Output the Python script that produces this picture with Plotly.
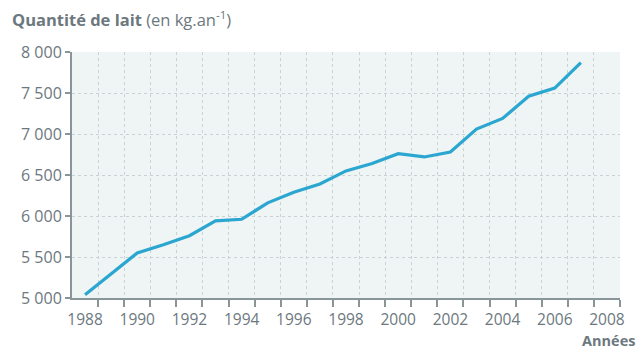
import plotly.graph_objects as go

years = list(range(1988, 2008))
milk = [5040, 5295, 5550, 5650, 5760, 5940, 5960, 6160, 6290, 6390,
        6550, 6640, 6760, 6720, 6780, 7060, 7190, 7460, 7560, 7870]

x_label_years = list(range(1988, 2009, 2))
y_ticks = [5000, 5500, 6000, 6500, 7000, 7500, 8000]
y_tick_text = ["5 000", "5 500", "6 000", "6 500", "7 000", "7 500", "8 000"]

title_bold = "Quantité de lait"
title_rest = "(en kg.an<sup>-1</sup>)"
x_title = "Années"

axis_col = "#8a959a"
text_col = "#6c787e"
grid_col = "#c9d2d4"
line_col = "#2ba6d1"
font_fam = "Open Sans, Noto Sans, sans-serif"

W, H = 641, 349
ml, mr, mt, mb = 72, 21, 52, 51

fig = go.Figure()
fig.add_trace(go.Scatter(x=years, y=milk, mode="lines",
                         line=dict(color=line_col, width=3.2),
                         hoverinfo="skip"))

half_years = [y + 0.5 for y in range(1988, 2009)]

fig.update_layout(
    width=W, height=H,
    margin=dict(l=ml, r=mr, t=mt, b=mb),
    paper_bgcolor="white",
    plot_bgcolor="#eff4f4",
    showlegend=False,
    font=dict(family=font_fam, color=text_col, size=16),
    title=dict(text=f"<b>{title_bold}</b> {title_rest}",
               xref="container", yref="container",
               x=12 / W, xanchor="left",
               y=1 - 20 / H, yanchor="middle",
               font=dict(size=16.5, color=text_col, family=font_fam)),
    xaxis=dict(range=[1987.5, 2008.5], tickmode="array",
               tickvals=x_label_years, ticktext=[str(v) for v in x_label_years],
               ticks="", showgrid=False, zeroline=False,
               showline=True, linecolor=axis_col, linewidth=2,
               ticklabelstandoff=6,
               tickfont=dict(size=15.5, color=text_col),
               minor=dict(tickmode="array", tickvals=half_years,
                          ticks="outside", ticklen=7, tickwidth=2,
                          tickcolor=axis_col, showgrid=True,
                          gridcolor=grid_col, griddash="dot", gridwidth=1)),
    yaxis=dict(range=[5000, 8000], tickmode="array",
               tickvals=y_ticks, ticktext=y_tick_text,
               ticks="outside", ticklen=5, tickwidth=2, tickcolor=axis_col,
               showgrid=True, gridcolor=grid_col, griddash="dot", gridwidth=1,
               zeroline=False, showline=True, linecolor=axis_col, linewidth=2,
               tickfont=dict(size=16, color=text_col)),
)

# axis arrows
fig.add_annotation(x=1987.5, y=8000 + 12 / 0.082, xref="x", yref="y",
                   ax=0, ay=14, text="", showarrow=True,
                   arrowhead=2, arrowsize=1, arrowwidth=2, arrowcolor=axis_col,
                   standoff=0)
fig.add_annotation(x=2008.5 + 18 / 26.1, y=5000, xref="x", yref="y",
                   ax=-20, ay=0, text="", showarrow=True,
                   arrowhead=2, arrowsize=1, arrowwidth=2, arrowcolor=axis_col,
                   standoff=0)

fig.add_annotation(x=1 + 16 / 548, y=-42 / 246, xref="paper", yref="paper",
                   text=f"<b>{x_title}</b>", showarrow=False, borderpad=0,
                   xanchor="right", yanchor="middle",
                   font=dict(size=14.5, color=text_col, family=font_fam))

fig.write_html("out.html")
